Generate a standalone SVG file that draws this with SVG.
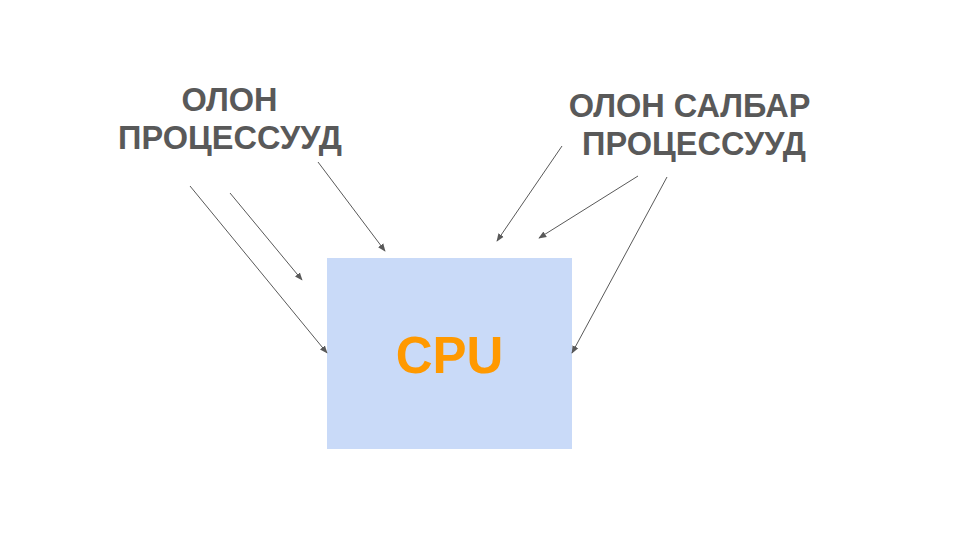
<svg xmlns="http://www.w3.org/2000/svg" width="960" height="540" viewBox="0 0 960 540">
<defs>
<style>
.lbl{font-family:"Liberation Sans",Arial,sans-serif;font-weight:bold;font-size:32.5px;fill:#595959;text-anchor:middle}
.cpu{font-family:"Liberation Sans",Arial,sans-serif;font-weight:bold;font-size:51px;fill:#ff9900;text-anchor:middle}
.c line{stroke:#595959;stroke-width:1;marker-end:url(#ah)}
</style>
<marker id="ah" viewBox="0 0 10 10" refX="9" refY="5" markerWidth="8" markerHeight="8" markerUnits="userSpaceOnUse" orient="auto">
<path d="M0,1 L10,5 L0,9 Z" fill="#595959"/>
</marker>
</defs>
<rect width="960" height="540" fill="#ffffff"/>
<g id="cpu">
<rect x="327" y="258" width="245" height="191" fill="#c9daf8"/>
<text class="cpu" x="449.5" y="373">CPU</text>
</g>
<g id="left-label">
<text class="lbl" x="229.5" y="111">ОЛОН</text>
<text class="lbl" x="230" y="149">ПРОЦЕССУУД</text>
</g>
<g id="right-label">
<text class="lbl" x="689.5" y="117">ОЛОН САЛБАР</text>
<text class="lbl" x="694" y="155">ПРОЦЕССУУД</text>
</g>
<g id="connectors" class="c">
<line x1="190" y1="186" x2="327" y2="353"/>
<line x1="230" y1="193" x2="302" y2="280"/>
<line x1="318" y1="162" x2="385" y2="251"/>
<line x1="562" y1="146" x2="497" y2="241"/>
<line x1="638" y1="176" x2="539" y2="238"/>
<line x1="667" y1="177" x2="572" y2="353"/>
</g>
</svg>
